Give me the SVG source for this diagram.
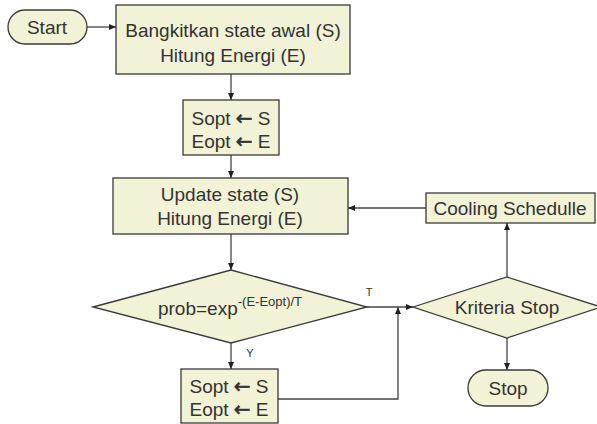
<svg xmlns="http://www.w3.org/2000/svg" width="597" height="424" viewBox="0 0 597 424">
<defs>
<marker id="ah" markerWidth="8" markerHeight="6" refX="7" refY="3" orient="auto" markerUnits="userSpaceOnUse">
<path d="M0,0 L7,3 L0,6 Z" fill="#222"/>
</marker>
<style>
.n{fill:#f2f2d6;stroke:#3a3a3a;stroke-width:1.3}
.t{font-family:"Liberation Sans",Arial,sans-serif;font-size:19px;fill:#333;text-anchor:middle}
.s{font-family:"Liberation Sans",Arial,sans-serif;font-size:11px;fill:#333;text-anchor:middle}
.a{font-family:"DejaVu Sans",sans-serif;font-size:20px;stroke:#333;stroke-width:0.6}
.c{fill:none;stroke:#444;stroke-width:1.3}
</style>
</defs>
<rect width="597" height="424" fill="#ffffff"/>
<g id="connectors">
<path class="c" d="M87,27 H116" marker-end="url(#ah)"/>
<path class="c" d="M231,74 V100" marker-end="url(#ah)"/>
<path class="c" d="M231,155 V178" marker-end="url(#ah)"/>
<path class="c" d="M231,234 V270" marker-end="url(#ah)"/>
<path class="c" d="M231,343 V369" marker-end="url(#ah)"/>
<path class="c" d="M278,399 H398 V307" marker-end="url(#ah)"/>
<path class="c" d="M367,307 H413" marker-end="url(#ah)"/>
<path class="c" d="M507,277 V223" marker-end="url(#ah)"/>
<path class="c" d="M426,208 H348" marker-end="url(#ah)"/>
<path class="c" d="M507,338 V370" marker-end="url(#ah)"/>
<text class="s" x="369" y="296">T</text>
<text class="s" x="250" y="357">Y</text>
</g>
<g id="start">
<rect class="n" x="8" y="10" width="79" height="34" rx="17"/>
<text class="t" x="47" y="34">Start</text>
</g>
<g id="init">
<rect class="n" x="116" y="5" width="234" height="69"/>
<text class="t" x="233" y="37">Bangkitkan state awal (S)</text>
<text class="t" x="233" y="62">Hitung Energi (E)</text>
</g>
<g id="opt1">
<rect class="n" x="183" y="100" width="96" height="55"/>
<text class="t" x="231" y="125">Sopt <tspan class="a">←</tspan> S</text>
<text class="t" x="231" y="148">Eopt <tspan class="a">←</tspan> E</text>
</g>
<g id="update">
<rect class="n" x="113" y="178" width="235" height="56"/>
<text class="t" x="230" y="201">Update state (S)</text>
<text class="t" x="230" y="225">Hitung Energi (E)</text>
</g>
<g id="prob">
<polygon class="n" points="93,307 231,270 367,307 231,343"/>
<text class="t" x="230" y="315">prob=exp<tspan font-size="13" dy="-9">-(E-Eopt)/T</tspan></text>
</g>
<g id="opt2">
<rect class="n" x="181" y="369" width="97" height="54"/>
<text class="t" x="229" y="393">Sopt <tspan class="a">←</tspan> S</text>
<text class="t" x="229" y="416">Eopt <tspan class="a">←</tspan> E</text>
</g>
<g id="kriteria">
<polygon class="n" points="413,307 507,277 601,307 507,338"/>
<text class="t" x="507" y="314">Kriteria Stop</text>
</g>
<g id="cooling">
<rect class="n" x="426" y="193" width="169" height="30"/>
<text class="t" x="510" y="215">Cooling Schedulle</text>
</g>
<g id="stop">
<rect class="n" x="468" y="370" width="80" height="36" rx="18"/>
<text class="t" x="508" y="395">Stop</text>
</g>
</svg>
